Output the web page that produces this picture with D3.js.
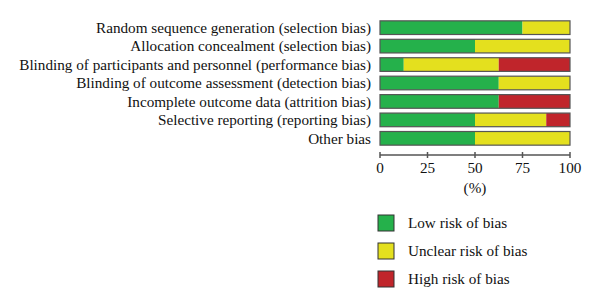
<!DOCTYPE html>
<html>
<head>
<meta charset="utf-8">
<script src="https://cdn.jsdelivr.net/npm/d3@7"></script>
<style>
  body { margin: 0; background: #fff; }
  svg { display: block; font-family: "Liberation Serif", "DejaVu Serif", serif; }
</style>
</head>
<body>
<svg id="chart" width="600" height="307"></svg>
<script>
// Risk of bias summary — stacked percentage bars per domain

const domains = [
    'Random sequence generation (selection bias)',
    'Allocation concealment (selection bias)',
    'Blinding of participants and personnel (performance bias)',
    'Blinding of outcome assessment (detection bias)',
    'Incomplete outcome data (attrition bias)',
    'Selective reporting (reporting bias)',
    'Other bias',
];
const lowRisk     = [75, 50, 12.5, 62.5, 62.5, 50, 50];
const unclearRisk = [25, 50, 50,   37.5, 0,    37.5, 50];
const highRisk    = [0,  0,  37.5, 0,    37.5, 12.5, 0];

const riskKeys   = ['low', 'unclear', 'high'];
const riskLabels = ['Low risk of bias', 'Unclear risk of bias', 'High risk of bias'];
const xTicks     = [0, 25, 50, 75, 100];

const COLORS = { low: '#25b14b', unclear: '#e4e01e', high: '#c0252b' };
const FONT = '15.2px';

const svg = d3.select('#chart');

const rows = domains.map((name, i) => ({
    name, low: lowRisk[i], unclear: unclearRisk[i], high: highRisk[i],
}));

// ── Scales ────────────────────────────────────────────────────────────────
const x = d3.scaleLinear().domain([0, 100]).range([380, 570]);
const y = d3.scaleBand().domain(domains).range([19, 147]).paddingInner(0.26).paddingOuter(0.1);

const stack = d3.stack().keys(riskKeys)(rows);

// ── Bars ──────────────────────────────────────────────────────────────────
svg.append('g').selectAll('g')
    .data(stack)
    .join('g')
    .attr('fill', d => COLORS[d.key])
    .selectAll('rect')
    .data(d => d.filter(s => s[1] > s[0]))
    .join('rect')
    .attr('x', d => x(d[0]))
    .attr('y', d => y(d.data.name))
    .attr('width', d => x(d[1]) - x(d[0]))
    .attr('height', y.bandwidth());

// bar outline
svg.append('g').selectAll('rect')
    .data(rows)
    .join('rect')
    .attr('x', x(0))
    .attr('y', d => y(d.name))
    .attr('width', x(100) - x(0))
    .attr('height', y.bandwidth())
    .attr('fill', 'none')
    .attr('stroke', '#555')
    .attr('stroke-width', 1.2);

// ── Category labels ───────────────────────────────────────────────────────
svg.append('g').selectAll('text')
    .data(domains)
    .join('text')
    .attr('x', 371)
    .attr('y', d => y(d) + y.bandwidth() / 2)
    .attr('dy', '0.35em')
    .attr('text-anchor', 'end')
    .attr('font-size', FONT)
    .attr('fill', '#111')
    .text(d => d);

// ── X axis ────────────────────────────────────────────────────────────────
const axisG = svg.append('g').attr('transform', 'translate(0,155)');
axisG.append('line')
    .attr('x1', x(0)).attr('x2', x(100))
    .attr('stroke', '#555').attr('stroke-width', 1.5);
axisG.selectAll('.tick')
    .data(xTicks)
    .join('line')
    .attr('x1', d => x(d)).attr('x2', d => x(d))
    .attr('y1', -3).attr('y2', 3)
    .attr('stroke', '#555').attr('stroke-width', 1.5);
axisG.selectAll('.lbl')
    .data(xTicks)
    .join('text')
    .attr('x', d => x(d))
    .attr('y', 18)
    .attr('text-anchor', 'middle')
    .attr('font-size', FONT)
    .attr('fill', '#111')
    .text(d => d);

svg.append('text')
    .attr('x', x(50))
    .attr('y', 193)
    .attr('text-anchor', 'middle')
    .attr('font-size', FONT)
    .attr('fill', '#111')
    .text('(%)');

// ── Legend ────────────────────────────────────────────────────────────────
const legendG = svg.append('g').attr('transform', 'translate(378,215)');
riskKeys.forEach((key, i) => {
    legendG.append('rect')
        .attr('x', 0).attr('y', i * 28)
        .attr('width', 16).attr('height', 16)
        .attr('fill', COLORS[key])
        .attr('stroke', '#333').attr('stroke-width', 1);
    legendG.append('text')
        .attr('x', 30).attr('y', i * 28 + 8)
        .attr('dy', '0.35em')
        .attr('font-size', FONT)
        .attr('fill', '#111')
        .text(riskLabels[i]);
});
</script>
</body>
</html>
